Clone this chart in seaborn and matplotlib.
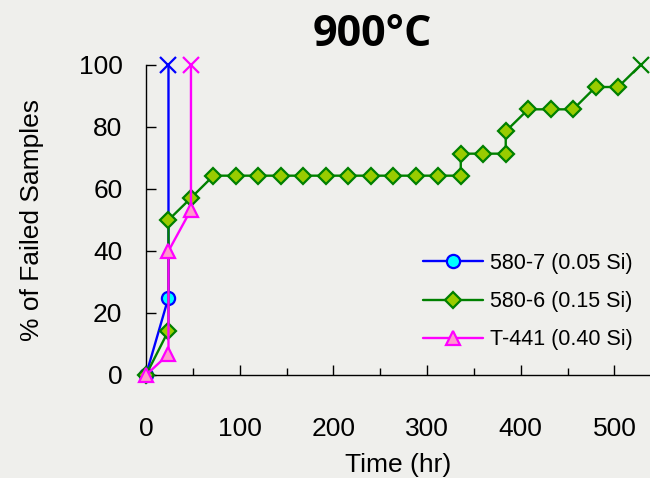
import numpy as np
import pandas as pd
import matplotlib.pyplot as plt
import seaborn as sns
from matplotlib.ticker import MultipleLocator

# --- data ---
time_580_7 = [0, 24, 24, 24]
pct_580_7 = [0, 25.0, 100, 100]

time_580_6 = [0, 24, 24, 48, 72, 96, 120, 144, 168, 192, 216, 240, 264, 288, 312,
              336, 336, 360, 384, 384, 408, 432, 456, 480, 504, 528]
pct_580_6 = [0, 14.3, 50.0, 57.1, 64.3, 64.3, 64.3, 64.3, 64.3, 64.3, 64.3, 64.3, 64.3,
             64.3, 64.3, 64.3, 71.4, 71.4, 71.4, 78.6, 85.7, 85.7, 85.7, 92.9, 92.9, 100]

time_t441 = [0, 24, 24, 48, 48]
pct_t441 = [0, 6.7, 40.0, 53.3, 100]

labels = ["580-7 (0.05 Si)", "580-6 (0.15 Si)", "T-441 (0.40 Si)"]

series = [
    (time_580_7[:3], pct_580_7[:3], labels[0], "#0000FF", "o", "#00FFFF", 9.5),
    (time_580_6, pct_580_6, labels[1], "#008000", "D", "#99CC00", 8.5),
    (time_t441, pct_t441, labels[2], "#FF00FF", "^", "#FF99CC", 10.5),
]

sns.set_style("white")
plt.rcParams['font.family'] = ['Liberation Sans', 'DejaVu Sans']
plt.rcParams['text.color'] = 'black'
plt.rcParams['axes.labelcolor'] = 'black'
plt.rcParams['xtick.color'] = 'black'
plt.rcParams['ytick.color'] = 'black'

fig = plt.figure(figsize=(6.5, 4.78), dpi=100, facecolor="#efefec")
ax = fig.add_axes([146 / 650, 1 - 375 / 478, 1 - 146 / 650, (375 - 65) / 478])
ax.set_facecolor("none")

for t, p, lab, col, mk, fc, ms in series:
    df = pd.DataFrame({"Time": t, "Pct": p})
    n = len(df)
    sns.lineplot(data=df, x="Time", y="Pct", ax=ax, color=col, lw=1.7,
                 estimator=None, sort=False, marker=mk, markersize=ms,
                 markerfacecolor=fc, markeredgecolor=col, markeredgewidth=1.6,
                 markevery=list(range(n - 1)), label=lab, zorder=3, clip_on=False)
    # failure of the last sample shown with an x
    ax.plot(df["Time"].iloc[-1], df["Pct"].iloc[-1], marker="x", color=col,
            markersize=11, markeredgewidth=1.6, zorder=4, clip_on=False)

ax.set_xlim(0, 538)
ax.set_ylim(0, 100)
ax.xaxis.set_major_locator(MultipleLocator(100))
ax.xaxis.set_minor_locator(MultipleLocator(50))
ax.yaxis.set_major_locator(MultipleLocator(20))

for s in ["top", "right"]:
    ax.spines[s].set_visible(False)
for s in ["left", "bottom"]:
    ax.spines[s].set_color("black")
    ax.spines[s].set_linewidth(1.0)
    ax.spines[s].set_zorder(2)

ax.tick_params(axis="x", which="major", direction="in", length=7, width=1,
               pad=30, labelsize=19, bottom=True)
ax.tick_params(axis="x", which="minor", direction="in", length=5, width=1, bottom=True)
ax.tick_params(axis="y", which="major", direction="in", length=7, width=1,
               pad=17, labelsize=19, left=True)

ax.set_xlabel("Time (hr)", fontsize=19, labelpad=9)
ax.set_ylabel("% of Failed Samples", fontsize=19, labelpad=25)

fig.text(372 / 650, 1 - 35 / 478, "900°C", fontsize=31, fontweight="bold",
         family=["Open Sans", "DejaVu Sans"], ha="center", va="center")

ax.legend(loc="upper left", bbox_to_anchor=(423 / 650, 1 - 253 / 478),
          bbox_transform=fig.transFigure, frameon=False, fontsize=15.5,
          handlelength=2.8, handletextpad=0.3, labelspacing=0.8,
          borderpad=0, borderaxespad=0)

fig.savefig("out.png", dpi=100, facecolor=fig.get_facecolor())
